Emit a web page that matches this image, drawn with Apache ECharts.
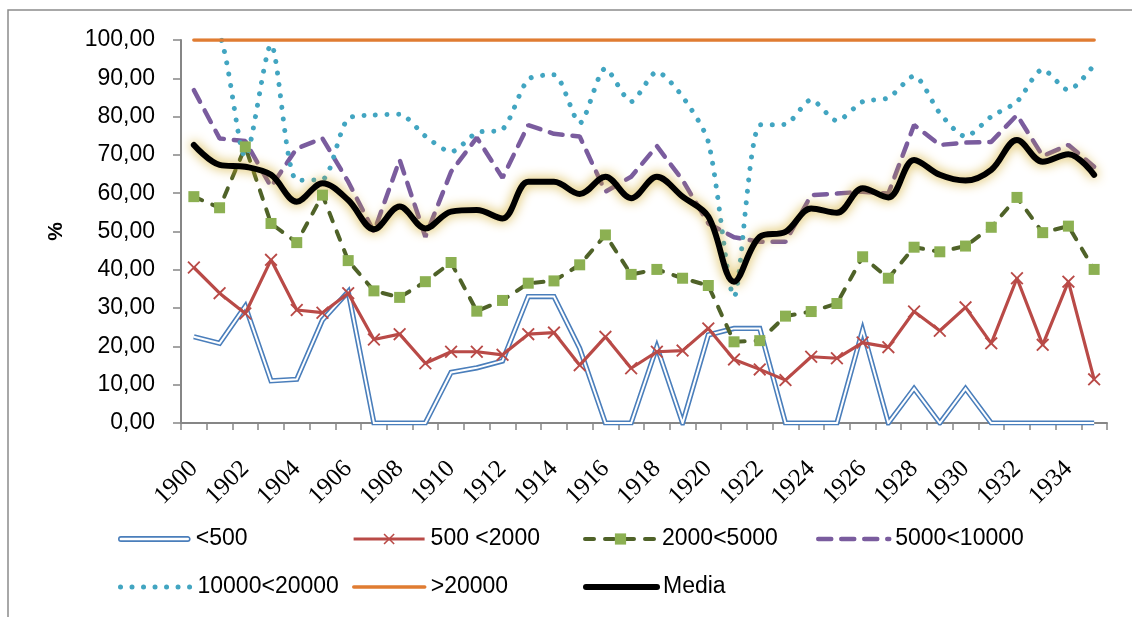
<!DOCTYPE html>
<html>
<head>
<meta charset="utf-8">
<script src="https://cdn.jsdelivr.net/npm/echarts@6/dist/echarts.min.js"></script>
<style>
  html, body { margin: 0; padding: 0; background: #fff; }
  #chart { width: 1132px; height: 617px; }
</style>
</head>
<body>
<div id="chart"></div>
<script>
// Years on the category axis
const years = [
  '1900','1901','1902','1903','1904','1905','1906','1907','1908','1909',
  '1910','1911','1912','1913','1914','1915','1916','1917','1918','1919',
  '1920','1921','1922','1923','1924','1925','1926','1927','1928','1929',
  '1930','1931','1932','1933','1934','1935'
];

// Percentages by municipality size
const under500 = [22.5, 20.8, 30.5, 11.0, 11.4, 26.9, 34.3, 0, 0, 0, 13.2, 14.4, 16.2, 33.0, 33.0, 19.5, 0, 0, 19.9, 0,
  23.0, 24.7, 24.7, 0, 0, 0, 24.3, 0, 9.0, 0, 9.0, 0, 0, 0, 0, 0];
const from500to2000 = [40.6, 33.9, 28.6, 42.6, 29.5, 28.8, 33.9, 21.8, 23.2, 15.6, 18.6, 18.6, 17.8, 23.2, 23.6, 15.1, 22.5, 14.3, 18.6, 18.9,
  24.7, 16.6, 14.0, 11.2, 17.3, 16.9, 21.0, 19.8, 29.1, 24.1, 30.2, 20.8, 37.8, 20.4, 36.9, 11.4];
const from2000to5000 = [59.1, 56.2, 72.1, 52.1, 47.1, 59.5, 42.4, 34.5, 32.8, 36.9, 41.9, 29.2, 32.0, 36.5, 37.1, 41.3, 49.1, 38.8, 40.1, 37.8,
  35.9, 21.2, 21.5, 27.9, 29.1, 31.2, 43.4, 37.8, 45.9, 44.7, 46.2, 51.1, 58.9, 49.7, 51.4, 40.1];
const from5000to10000 = [86.9, 74.3, 73.6, 61.7, 71.7, 74.3, 63.0, 49.9, 68.7, 48.6, 65.6, 74.5, 64.0, 77.8, 75.5, 74.8, 60.4, 64.3, 72.3, 63.4,
  52.1, 48.5, 47.3, 47.3, 59.5, 59.9, 60.4, 59.9, 77.8, 72.6, 73.2, 73.4, 80.4, 69.7, 72.6, 66.9];
// the first two years run above the 100 % ceiling and are cut off by the plot area
const from10000to20000 = [104, 101.5, 69.5, 98.8, 63.4, 63.6, 79.5, 80.4, 80.6, 74.9, 70.8, 75.8, 76.7, 89.7, 90.9, 78.3, 92.6, 83.9, 91.7, 85.2,
  73.4, 33.0, 77.8, 78.0, 84.4, 78.9, 83.9, 84.9, 90.6, 80.9, 74.8, 80.0, 83.9, 92.3, 86.9, 93.5];
const over20000 = [100, 100, 100, 100, 100, 100, 100, 100, 100, 100, 100, 100, 100, 100, 100, 100, 100, 100, 100, 100,
  100, 100, 100, 100, 100, 100, 100, 100, 100, 100, 100, 100, 100, 100, 100, 100];
const media = [72.6, 67.4, 66.9, 64.8, 57.8, 62.6, 58.2, 50.6, 56.5, 50.8, 55.2, 55.6, 53.4, 63.0, 63.0, 59.8, 64.3, 58.7, 64.3, 59.1,
  53.9, 36.9, 48.6, 49.9, 56.0, 54.9, 61.3, 58.9, 68.7, 64.8, 63.3, 66.1, 73.9, 68.2, 70.2, 64.8];

const SANS = 'Liberation Sans';
const SERIF = 'Liberation Serif';
const AXIS_GREY = '#868686';
const CROSS = 'path://M0,1 L1,0 L5,4 L9,0 L10,1 L6,5 L10,9 L9,10 L5,6 L1,10 L0,9 L4,5 Z';

function legendAt(name, left, top, extra) {
  return Object.assign({
    data: [name],
    left: left,
    top: top,
    padding: 0,
    itemWidth: 71,
    itemHeight: 14,
    itemGap: 0,
    selectedMode: false,
    lineStyle: { width: 'inherit', shadowBlur: 0 },
    textStyle: { fontFamily: SANS, fontSize: 23, color: '#000', lineHeight: 24, padding: [0, 0, 0, 1] }
  }, extra || {});
}
// legend entries for plain lines: hide the marker, keep the stroke
const NO_MARK = { itemStyle: { opacity: 0 } };

const chart = echarts.init(document.getElementById('chart'), null, { renderer: 'canvas' });
chart.setOption({
  animation: false,
  backgroundColor: '#fff',
  graphic: [{
    type: 'rect',
    shape: { x: 8, y: 10, width: 1300, height: 800 },
    style: { fill: 'none', stroke: '#8c8c8c', lineWidth: 1.5 },
    silent: true,
    z: -1
  }],
  grid: { left: 181, right: 25, top: 40, bottom: 194 },
  legend: [
    legendAt('<500', 118, 527, {
      data: [{ name: '<500', icon: 'path://M3,0 L97,0 A3,3 0 0 1 97,6 L3,6 A3,3 0 0 1 3,0 Z',
        itemStyle: { color: '#fff', borderColor: '#4a7ebb', borderWidth: 1.6 } }],
      itemHeight: 6
    }),
    legendAt('500 <2000', 352, 527),
    legendAt('2000<5000', 583, 527),
    legendAt('5000<10000', 816, 527, NO_MARK),
    legendAt('10000<20000', 118, 575, NO_MARK),
    legendAt('>20000', 352, 575, NO_MARK),
    legendAt('Media', 583, 575, NO_MARK)
  ],
  xAxis: {
    type: 'category',
    data: years,
    axisLine: { lineStyle: { color: AXIS_GREY, width: 2 } },
    axisTick: { show: true, interval: 0, length: 7, lineStyle: { color: AXIS_GREY, width: 1.5 } },
    axisLabel: {
      interval: 1,
      rotate: 45,
      margin: 42,
      fontFamily: SERIF,
      fontSize: 25,
      color: '#000'
    },
    splitLine: { show: false }
  },
  yAxis: {
    type: 'value',
    min: 0,
    max: 100,
    interval: 10,
    name: '%',
    nameLocation: 'middle',
    nameRotate: 90,
    nameGap: 114,
    nameTextStyle: { fontFamily: SANS, fontSize: 21, fontWeight: 'bold', color: '#000' },
    axisLine: { show: true, lineStyle: { color: AXIS_GREY, width: 2 } },
    axisTick: { show: true, inside: false, length: 8, lineStyle: { color: AXIS_GREY, width: 1.5 } },
    axisLabel: {
      margin: 26,
      fontFamily: SANS,
      fontSize: 23,
      color: '#000',
      formatter: v => v.toFixed(2).replace('.', ',')
    },
    splitLine: { show: false }
  },
  series: [
    {
      name: '<500', type: 'line', data: under500,
      symbol: 'none', color: '#4a7ebb',
      lineStyle: { color: '#4a7ebb', width: 5.2, join: 'miter' }
    },
    {
      name: '<500 centre', type: 'line', data: under500,
      symbol: 'none', silent: true, color: '#fff',
      lineStyle: { color: '#fff', width: 2, join: 'miter' }
    },
    {
      name: '500 <2000', type: 'line', data: from500to2000,
      symbol: CROSS, symbolSize: 13, showAllSymbol: true, color: '#b94a47',
      itemStyle: { color: '#b94a47', borderWidth: 0 },
      lineStyle: { color: '#b94a47', width: 3.2 }
    },
    {
      name: '2000<5000', type: 'line', data: from2000to5000,
      symbol: 'rect', symbolSize: 11, showAllSymbol: true, color: '#8cb052',
      itemStyle: { color: '#8cb052', borderWidth: 0 },
      lineStyle: { color: '#4f6228', width: 4, type: [9, 11], cap: 'round' }
    },
    {
      name: '5000<10000', type: 'line', data: from5000to10000,
      symbol: 'none', color: '#7a5c9e',
      lineStyle: { color: '#7a5c9e', width: 4.5, type: [13, 10], cap: 'round' }
    },
    {
      name: '10000<20000', type: 'line', data: from10000to20000,
      symbol: 'none', smooth: 0.25, color: '#42a5c1',
      lineStyle: { color: '#42a5c1', width: 5, type: [0.01, 11.5], cap: 'round' }
    },
    {
      name: '>20000', type: 'line', data: over20000,
      symbol: 'none', color: '#e07c32',
      lineStyle: { color: '#e07c32', width: 3.5, cap: 'round' }
    },
    {
      name: 'Media', type: 'line', data: media,
      symbol: 'none', smooth: 0.35, color: '#000',
      lineStyle: {
        color: '#000', width: 6, cap: 'round',
        shadowColor: 'rgba(210, 170, 40, 1)', shadowBlur: 12
      }
    }
  ]
});
</script>
</body>
</html>
